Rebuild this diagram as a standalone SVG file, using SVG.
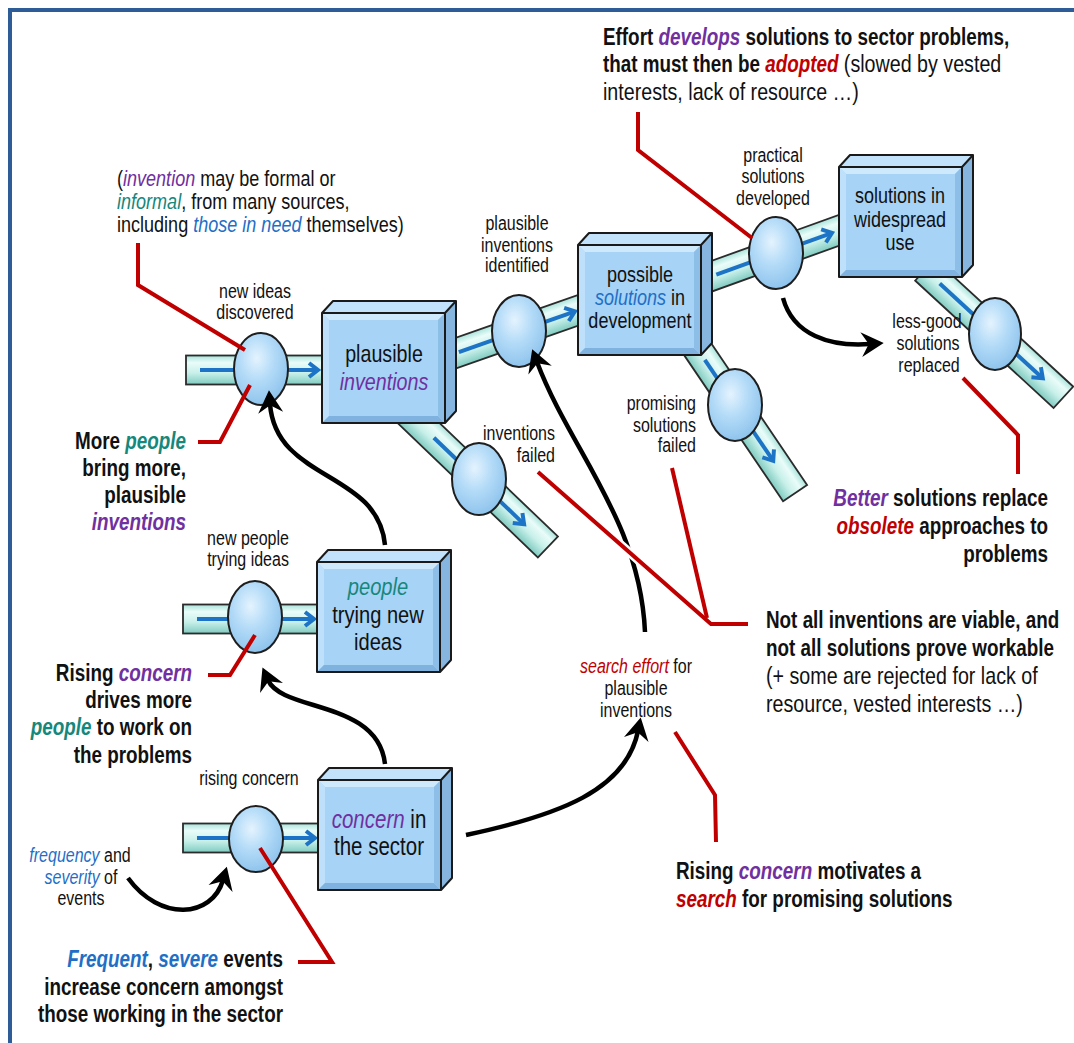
<svg xmlns="http://www.w3.org/2000/svg" xmlns:xlink="http://www.w3.org/1999/xlink" width="1074" height="1043" viewBox="0 0 1074 1043">
  <style>
    text { font-family: "Liberation Sans", Arial, sans-serif; fill: #111; }
    .lbl { font-size: 19.5px; }
    .boxt { font-size: 22px; text-anchor: middle; }
    .cap { font-size: 23px; font-weight: bold; }
    .capn { font-size: 24px; font-weight: normal; }
    .mid { text-anchor: middle; }
    .end { text-anchor: end; }
    .i { font-style: italic; }
    .pu { fill: #7030a0; }
    .te { fill: #16877b; }
    .bl { fill: #1f6fc6; }
    .re { fill: #c00000; }
    .pipe { fill: url(#pipeGrad); stroke: #2b2b2b; stroke-width: 1.8; }
    .flow { fill: none; stroke: #1d74c6; stroke-width: 4; }
    .chev { fill: none; stroke: #1d74c6; stroke-width: 4; stroke-linejoin: miter; }
    .valve { fill: url(#valveGrad); stroke: #1e1e1e; stroke-width: 2; }
    .red { fill: none; stroke: #c00000; stroke-width: 4; stroke-linejoin: miter; }
    .halo { fill: none; stroke: #ffffff; stroke-width: 9; }
    .link { fill: none; stroke: #000; stroke-width: 4.5; marker-end: url(#ah); }
  </style>
  <defs>
    <linearGradient id="pipeGrad" x1="0" y1="0" x2="0" y2="1">
      <stop offset="0" stop-color="#a9e3db"/>
      <stop offset="0.25" stop-color="#eafcf9"/>
      <stop offset="0.6" stop-color="#c8f0ea"/>
      <stop offset="1" stop-color="#80cbc0"/>
    </linearGradient>
    <radialGradient id="valveGrad" cx="0.42" cy="0.35" r="0.68">
      <stop offset="0" stop-color="#e4f3fe"/>
      <stop offset="0.45" stop-color="#b5dcf8"/>
      <stop offset="1" stop-color="#8cc2ec"/>
    </radialGradient>
    <marker id="ah" markerUnits="userSpaceOnUse" markerWidth="30" markerHeight="30" viewBox="-20 -12 22 24" refX="-11" refY="0" orient="auto">
      <path d="M0,0 L-18,-10 L-12,0 L-18,10 Z" fill="#000"/>
    </marker>
    <!-- bevelled 3D stock box, front face 123 x 110 -->
    <g id="cube">
      <polygon points="0,0 11,-12 134,-12 123,0" fill="#c2e2fb"/>
      <polygon points="123,0 134,-12 134,98 123,110" fill="#86b6e0"/>
      <rect x="0" y="0" width="123" height="110" fill="#a6d3f6"/>
      <polygon points="0,0 123,0 116,7 7,7" fill="#cfe9fc"/>
      <polygon points="0,0 7,7 7,103 0,110" fill="#bfe0fa"/>
      <polygon points="0,110 7,103 116,103 123,110" fill="#7fb2df"/>
      <polygon points="123,0 123,110 116,103 116,7" fill="#8dbee7"/>
      <path d="M0,0 L11,-12 L134,-12 L134,98 L123,110 L0,110 Z M0,0 H123 V110 M123,0 L134,-12" fill="none" stroke="#1a1a1a" stroke-width="2" stroke-linejoin="round"/>
    </g>
  </defs>

  <rect x="0" y="0" width="1074" height="1043" fill="#ffffff"/>
  <!-- frame -->
  <path d="M10,1043 V10 H1074" fill="none" stroke="#2e5c96" stroke-width="4"/>

  <!-- pipes -->
  <g id="pipes">
    <g transform="translate(186,370)">
      <rect class="pipe" x="0" y="-14.5" width="150" height="29"/>
      <path class="flow" d="M14,0 H130"/>
      <path class="chev" d="M123,-7 L132,0 L123,7"/>
    </g>
    <g transform="translate(183,619)">
      <rect class="pipe" x="0" y="-14.5" width="150" height="29"/>
      <path class="flow" d="M14,0 H129"/>
      <path class="chev" d="M122,-7 L131,0 L122,7"/>
    </g>
    <g transform="translate(183,838)">
      <rect class="pipe" x="0" y="-14.5" width="150" height="29"/>
      <path class="flow" d="M14,0 H130"/>
      <path class="chev" d="M123,-7 L132,0 L123,7"/>
    </g>
    <g transform="translate(440,358.7) rotate(-19.3)">
      <rect class="pipe" x="0" y="-14.5" width="160" height="29"/>
      <path class="flow" d="M20,0 H141"/>
      <path class="chev" d="M134,-7 L143,0 L134,7"/>
    </g>
    <g transform="translate(705,278.6) rotate(-19.8)">
      <rect class="pipe" x="0" y="-14.5" width="155" height="29"/>
      <path class="flow" d="M12,0 H133"/>
      <path class="chev" d="M126,-7 L135,0 L126,7"/>
    </g>
    <g transform="translate(405,410) rotate(43.8)">
      <rect class="pipe" x="0" y="-14.5" width="198" height="29"/>
      <path class="flow" d="M40,0 H163"/>
      <path class="chev" d="M156,-7 L165,0 L156,7"/>
    </g>
    <g transform="translate(688,335) rotate(55.9)">
      <rect class="pipe" x="0" y="-14.5" width="191" height="29"/>
      <path class="flow" d="M30,0 H150"/>
      <path class="chev" d="M143,-7 L152,0 L143,7"/>
    </g>
    <g transform="translate(925,270) rotate(42.6)">
      <rect class="pipe" x="0" y="-14.5" width="188" height="29"/>
      <path class="flow" d="M20,0 H158"/>
      <path class="chev" d="M151,-7 L160,0 L151,7"/>
    </g>
  </g>

  <!-- flow valves -->
  <g id="valve-new-ideas"><ellipse class="valve" cx="261" cy="369" rx="27" ry="36"/></g>
  <g id="valve-identified"><ellipse class="valve" cx="519" cy="331" rx="27" ry="36"/></g>
  <g id="valve-developed"><ellipse class="valve" cx="776" cy="253" rx="27" ry="36"/></g>
  <g id="valve-inventions-failed"><ellipse class="valve" cx="479" cy="479" rx="27" ry="36"/></g>
  <g id="valve-solutions-failed"><ellipse class="valve" cx="735" cy="405" rx="27" ry="36"/></g>
  <g id="valve-replaced"><ellipse class="valve" cx="995" cy="334" rx="26" ry="36"/></g>
  <g id="valve-new-people"><ellipse class="valve" cx="255" cy="617" rx="27" ry="36"/></g>
  <g id="valve-rising-concern"><ellipse class="valve" cx="256" cy="839" rx="27" ry="33"/></g>

  <!-- stocks (text set condensed) -->
  <g id="stock-plausible-inventions">
    <use xlink:href="#cube" href="#cube" x="322" y="313"/>
    <text class="boxt" transform="translate(384,362) scale(.82 1)" style="font-size:24px">plausible</text>
    <text class="boxt i pu" transform="translate(384,390) scale(.82 1)" style="font-size:24px">inventions</text>
  </g>
  <g id="stock-possible-solutions">
    <use xlink:href="#cube" href="#cube" x="578" y="245"/>
    <text class="boxt" transform="translate(640,282) scale(.82 1)">possible</text>
    <text class="boxt" transform="translate(640,305) scale(.82 1)"><tspan class="i bl">solutions</tspan> in</text>
    <text class="boxt" transform="translate(640,328) scale(.82 1)">development</text>
  </g>
  <g id="stock-widespread-use">
    <use xlink:href="#cube" href="#cube" x="839" y="167"/>
    <text class="boxt" transform="translate(900,203) scale(.82 1)">solutions in</text>
    <text class="boxt" transform="translate(900,227) scale(.82 1)">widespread</text>
    <text class="boxt" transform="translate(900,250) scale(.82 1)">use</text>
  </g>
  <g id="stock-people">
    <use xlink:href="#cube" href="#cube" x="317" y="562"/>
    <text class="boxt i te" transform="translate(378,595) scale(.82 1)" style="font-size:24.5px">people</text>
    <text class="boxt" transform="translate(378,623) scale(.82 1)" style="font-size:24.5px">trying new</text>
    <text class="boxt" transform="translate(378,650) scale(.82 1)" style="font-size:24.5px">ideas</text>
  </g>
  <g id="stock-concern">
    <use xlink:href="#cube" href="#cube" x="318" y="780"/>
    <text class="boxt" transform="translate(379,828) scale(.82 1)" style="font-size:25px"><tspan class="i pu">concern</tspan> in</text>
    <text class="boxt" transform="translate(379,855) scale(.82 1)" style="font-size:25px">the sector</text>
  </g>

  <!-- flow labels -->
  <g id="flow-labels">
    <text class="lbl mid" transform="translate(255,298) scale(.82 1)">new ideas</text>
    <text class="lbl mid" transform="translate(255,319) scale(.82 1)">discovered</text>
    <text class="lbl mid" transform="translate(517,230) scale(.82 1)">plausible</text>
    <text class="lbl mid" transform="translate(517,252) scale(.82 1)">inventions</text>
    <text class="lbl mid" transform="translate(517,272) scale(.82 1)">identified</text>
    <text class="lbl mid" transform="translate(773,162) scale(.82 1)">practical</text>
    <text class="lbl mid" transform="translate(773,183) scale(.82 1)">solutions</text>
    <text class="lbl mid" transform="translate(773,205) scale(.82 1)">developed</text>
    <text class="lbl mid" transform="translate(927,328) scale(.82 1)">less-good</text>
    <text class="lbl mid" transform="translate(928,350) scale(.82 1)">solutions</text>
    <text class="lbl mid" transform="translate(929,372) scale(.82 1)">replaced</text>
    <text class="lbl end" transform="translate(555,440) scale(.82 1)">inventions</text>
    <text class="lbl end" transform="translate(555,462) scale(.82 1)">failed</text>
    <text class="lbl end" transform="translate(696,410) scale(.82 1)">promising</text>
    <text class="lbl end" transform="translate(696,432) scale(.82 1)">solutions</text>
    <text class="lbl end" transform="translate(696,452) scale(.82 1)">failed</text>
    <text class="lbl mid" transform="translate(248,545) scale(.82 1)">new people</text>
    <text class="lbl mid" transform="translate(248,566) scale(.82 1)">trying ideas</text>
    <text class="lbl mid" transform="translate(249,785) scale(.82 1)">rising concern</text>
    <text class="lbl mid" transform="translate(80,862) scale(.82 1)"><tspan class="i bl">frequency</tspan> and</text>
    <text class="lbl mid" transform="translate(81,884) scale(.82 1)"><tspan class="i bl">severity</tspan> of</text>
    <text class="lbl mid" transform="translate(81,905) scale(.82 1)">events</text>
    <text class="lbl mid" transform="translate(636,673) scale(.82 1)"><tspan class="i re">search effort</tspan> for</text>
    <text class="lbl mid" transform="translate(636,695) scale(.82 1)">plausible</text>
    <text class="lbl mid" transform="translate(636,717) scale(.82 1)">inventions</text>
  </g>

  <!-- commentary -->
  <g id="notes">
    <text class="cap" transform="translate(603,45) scale(.82 1)">Effort <tspan class="i pu">develops</tspan> solutions to sector problems,</text>
    <text class="cap" transform="translate(603,72) scale(.82 1)">that must then be <tspan class="i re">adopted</tspan> <tspan class="capn">(slowed by vested</tspan></text>
    <text class="capn" transform="translate(603,100) scale(.82 1)">interests, lack of resource …)</text>

    <text class="capn" transform="translate(117,186) scale(.82 1)" style="font-size:22px">(<tspan class="i pu">invention</tspan> may be formal or</text>
    <text class="capn" transform="translate(117,209) scale(.82 1)" style="font-size:22px"><tspan class="i te">informal</tspan>, from many sources,</text>
    <text class="capn" transform="translate(117,232) scale(.82 1)" style="font-size:22px">including <tspan class="i bl">those in need</tspan> themselves)</text>

    <text class="cap end" transform="translate(186,449) scale(.82 1)">More <tspan class="i te">people</tspan></text>
    <text class="cap end" transform="translate(186,476) scale(.82 1)">bring more,</text>
    <text class="cap end" transform="translate(186,503) scale(.82 1)">plausible</text>
    <text class="cap end i pu" transform="translate(186,530) scale(.82 1)">inventions</text>

    <text class="cap end" transform="translate(192,681) scale(.82 1)">Rising <tspan class="i pu">concern</tspan></text>
    <text class="cap end" transform="translate(192,708) scale(.82 1)">drives more</text>
    <text class="cap end" transform="translate(192,735) scale(.82 1)"><tspan class="i te">people</tspan> to work on</text>
    <text class="cap end" transform="translate(192,763) scale(.82 1)">the problems</text>

    <text class="cap end" transform="translate(283,967) scale(.82 1)"><tspan class="i bl">Frequent</tspan>, <tspan class="i bl">severe</tspan> events</text>
    <text class="cap end" transform="translate(283,995) scale(.82 1)">increase concern amongst</text>
    <text class="cap end" transform="translate(283,1022) scale(.82 1)">those working in the sector</text>

    <text class="cap end" transform="translate(1048,506) scale(.82 1)"><tspan class="i pu">Better</tspan> solutions replace</text>
    <text class="cap end" transform="translate(1048,534) scale(.82 1)"><tspan class="i re">obsolete</tspan> approaches to</text>
    <text class="cap end" transform="translate(1048,562) scale(.82 1)">problems</text>

    <text class="cap" transform="translate(766,628) scale(.82 1)">Not all inventions are viable, and</text>
    <text class="cap" transform="translate(766,656) scale(.82 1)">not all solutions prove workable</text>
    <text class="capn" transform="translate(766,684) scale(.82 1)">(+ some are rejected for lack of</text>
    <text class="capn" transform="translate(766,712) scale(.82 1)">resource, vested interests …)</text>

    <text class="cap" transform="translate(676,879) scale(.82 1)">Rising <tspan class="i pu">concern</tspan> motivates a</text>
    <text class="cap" transform="translate(676,907) scale(.82 1)"><tspan class="i re">search</tspan> for promising solutions</text>
  </g>

  <!-- connectors -->
  <g id="connectors">
    <path class="link" d="M385,545 C378,470 276,482 270,404"/>
    <path class="link" d="M385,764 C378,700 282,712 268,680"/>
    <path class="link" d="M466,835 C560,815 626,790 638,731"/>
    <path class="link" d="M645,632 C640,520 570,450 537,362"/>
    <path class="link" d="M783,298 C793,335 830,347 870,344"/>
    <path class="link" d="M128,878 C160,922 212,918 223,880"/>

    <polyline class="red" points="138,243 138,285 245,350"/>
    <polyline class="red" points="250,385 220,442 198,442"/>
    <polyline class="red" points="638,112 638,150 752,238"/>
    <polyline class="red" points="255,635 230,675 208,675"/>
    <polyline class="red" points="260,848 332,962 298,962"/>
    <polyline class="red" points="675,732 715,795 716,842"/>
    <polyline class="red" points="963,378 1018,435 1018,474"/>
    <polyline class="halo" points="538,472 711,624"/>
    <polyline class="red" points="538,472 711,624 748,624"/>
    <polyline class="red" points="672,468 707,618"/>
  </g>
</svg>
